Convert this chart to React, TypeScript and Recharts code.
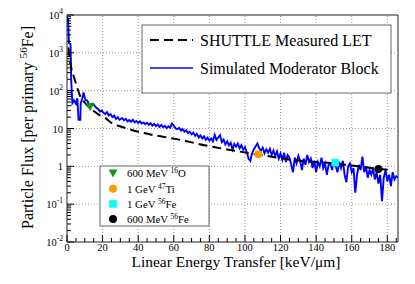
import { ComposedChart, Line, Scatter, XAxis, YAxis, ReferenceLine, ReferenceArea } from 'recharts';

// axis ticks
const xMajorTicks = [0, 20, 40, 60, 80, 100, 120, 140, 160, 180];
const yMajorTicks = [0.01, 0.1, 1, 10, 100, 1000, 10000];

// SHUTTLE measured LET spectrum (dashed)
const shuttleLet = [0.8, 1.5, 2.5, 3.9, 5.5, 7.7, 10, 12.4, 15, 18, 21.5, 25, 31, 40, 50, 60, 70, 80, 90, 103, 115, 128, 140, 150, 160, 170, 176, 181];
const shuttleFlux = [1400, 700, 380, 230, 130, 67, 48, 37, 29, 23, 19, 14, 11, 8.2, 6.5, 5.4, 4.3, 3.4, 2.8, 2.2, 1.8, 1.45, 1.3, 1.2, 1.05, 0.92, 0.85, 0.8];

// simulated moderator block, low LET part (irregular bins)
const simLetHead = [0, 0.6, 1.1, 2, 2.4, 3, 3.9, 5, 5.8, 6.5, 7.5, 7.7, 8.5, 9.3, 10.3, 11.4, 12.5, 13.5, 14.5, 15.5, 16.5, 17.5, 18.5, 19.5, 20.5, 21.5, 22.5, 23.5, 24.5, 25.5, 26.5, 27.5, 28.5, 29.5];
const simFluxHead = [8300, 8000, 1800, 1700, 170, 47, 56, 45, 63, 17, 17, 47, 60, 90, 56, 55, 42, 38, 45, 40, 35, 33, 28, 30, 26, 24, 27, 22, 24, 20, 22, 18, 20, 17];

// rest of the histogram, 1 keV/um bins starting at 30
const simTailStart = 30;
const simBinWidth = 1;
const simFluxTail = [
    17.5, 19, 16.5, 18, 15.5, 16.8, 15, 17, 14.5, 15.8,
    14, 15.5, 13.6, 14.5, 13, 14.2, 12.5, 13.8, 12, 13.2,
    11.6, 12.8, 11, 12.4, 10.8, 11.8, 10.2, 11.5, 10.5, 13.5,
    12, 10, 9.6, 10.4, 8.8, 9.6, 8.2, 9, 7.6, 8.3,
    7, 7.8, 6.4, 7.2, 5.8, 6.6, 5.4, 6.2, 5, 5.7,
    4.8, 5.5, 4.6, 6.8, 5, 5.8, 6.7, 4.4, 5.1, 3.8,
    4.6, 3.6, 4.2, 2.8, 3.9, 3.3, 4.0, 3.0, 3.6, 2.7,
    3.2, 2.4, 1.6, 1.4, 2.2, 2.8, 3.4, 4.0, 3.0, 2.6,
    3.1, 2.2, 2.8, 2.3, 2.9, 2.0, 2.6, 1.9, 2.5, 1.6,
    2.2, 1.5, 2.3, 1.3, 2.0, 1.7, 1.1, 0.7, 1.7, 1.2,
    1.9, 1.4, 0.8, 1.6, 1.1, 2.0, 1.3, 1.6, 0.9, 1.4,
    0.7, 1.3, 1.0, 1.7, 0.9, 1.2, 0.6, 1.1, 1.2, 0.8,
    1.5, 1.0, 0.7, 1.3, 0.9, 1.4, 0.6, 0.38, 1.0, 1.2,
    0.7, 0.9, 0.2, 0.6, 1.1, 0.8, 1.8, 0.7, 1.0, 0.5,
    0.8, 0.6, 0.9, 0.45, 0.7, 0.35, 0.6, 0.12, 0.5, 0.8,
    0.4, 0.6, 0.3, 0.7, 0.45, 0.55, 0.5,
];

// beam points
const beamEnergy = ['600 MeV', '1 GeV', '1 GeV', '600 MeV'];
const beamMass = ['16', '47', '56', '56'];
const beamIon = ['O', 'Ti', 'Fe', 'Fe'];
const beamLet = [13, 107.5, 150.7, 175];
const beamFlux = [37, 2.1, 1.26, 0.85];

const beamColors = ['#119911', '#ff9900', '#00ffff', '#000000'];
const beamShapes = ['triangle', 'circle', 'square', 'circle'];

const FONT = '"Liberation Serif", "Times New Roman", serif';

const shuttleData = shuttleLet.map((x, i) => ({ x, y: shuttleFlux[i] }));
const simData = [
    ...simLetHead.map((x, i) => ({ x, y: simFluxHead[i] })),
    ...simFluxTail.map((y, i) => ({ x: simTailStart + i * simBinWidth, y })),
];

const xTicks: number[] = [];
for (let v = 0; v <= 185; v += 5) xTicks.push(v);
const yTicks = [
    ...yMajorTicks.slice(0, -1).flatMap(d => [1, 2, 3, 4, 5, 6, 7, 8, 9].map(m => d * m)),
    10000,
];

function Marker({ cx, cy, shape, color }: { cx: number; cy: number; shape: string; color: string }) {
    if (shape === 'triangle') {
        return <polygon points={`${cx - 4.5},${cy - 4} ${cx + 4.5},${cy - 4} ${cx},${cy + 4}`} fill={color} />;
    }
    if (shape === 'square') {
        return <rect x={cx - 3.8} y={cy - 3.8} width={7.6} height={7.6} fill={color} />;
    }
    return <circle cx={cx} cy={cy} r={4} fill={color} />;
}

function YTick(props: any) {
    const { x, y, payload } = props;
    const v = payload.value;
    const e = Math.log10(v);
    const exp = Math.round(e);
    const major = Math.abs(e - exp) < 1e-6;
    return (
        <g>
            <line x1={x} x2={x + (major ? 7 : 4)} y1={y} y2={y} stroke="#000" strokeWidth={1} />
            {major && (
                <text x={x - 4} y={y + 4} textAnchor="end" fontSize={10.5} fontFamily={FONT} fill="#000">
                    {exp === 0 ? '1' : '10'}
                    {exp !== 0 && exp !== 1 && (
                        <tspan dy={-5} fontSize={7.5}>{exp}</tspan>
                    )}
                </text>
            )}
        </g>
    );
}

function XTick(props: any) {
    const { x, y, payload } = props;
    const v = payload.value;
    const major = v % 20 === 0;
    return (
        <g>
            <line x1={x} x2={x} y1={y} y2={y - (major ? 7 : 4)} stroke="#000" strokeWidth={1} />
            {major && (
                <text x={x} y={y + 8.5} textAnchor="middle" fontSize={10.5} fontFamily={FONT} fill="#000">
                    {v}
                </text>
            )}
        </g>
    );
}

export default function App() {
    return (
        <div style={{ position: 'absolute', left: 0, top: 0, width: 415, height: 284, background: '#fff' }}>
            <ComposedChart width={415} height={284} margin={{ top: 15, right: 17, bottom: 0, left: 0 }}>
                <XAxis
                    type="number"
                    dataKey="x"
                    domain={[0, 186]}
                    allowDataOverflow
                    ticks={xTicks}
                    interval={0}
                    tick={<XTick />}
                    tickLine={false}
                    axisLine={false}
                    tickSize={0}
                    tickMargin={0}
                    height={42}
                />
                <YAxis
                    type="number"
                    dataKey="y"
                    scale="log"
                    domain={[0.01, 10000]}
                    allowDataOverflow
                    ticks={yTicks}
                    interval={0}
                    tick={<YTick />}
                    tickLine={false}
                    axisLine={false}
                    tickSize={0}
                    tickMargin={0}
                    width={67}
                />
                {xMajorTicks.slice(1).map(v => (
                    <ReferenceLine key={'gx' + v} x={v} stroke="#999" strokeDasharray="1 2" />
                ))}
                {yMajorTicks.slice(1, -1).map(v => (
                    <ReferenceLine key={'gy' + v} y={v} stroke="#999" strokeDasharray="1 2" />
                ))}
                <Line
                    data={simData}
                    dataKey="y"
                    type="linear"
                    stroke="#0000ff"
                    strokeWidth={1.9}
                    dot={false}
                    isAnimationActive={false}
                />
                <Line
                    data={shuttleData}
                    dataKey="y"
                    type="monotone"
                    stroke="#000"
                    strokeWidth={2}
                    strokeDasharray="9 5"
                    dot={false}
                    isAnimationActive={false}
                />
                {beamLet.map((x, i) => (
                    <Scatter
                        key={'b' + i}
                        data={[{ x, y: beamFlux[i] }]}
                        dataKey="y"
                        isAnimationActive={false}
                        shape={(p: any) => <Marker cx={p.cx} cy={p.cy} shape={beamShapes[i]} color={beamColors[i]} />}
                    />
                ))}
                <ReferenceArea x1={0} x2={186} y1={0.01} y2={10000} fill="none" stroke="#222" strokeWidth={1} ifOverflow="visible" />
            </ComposedChart>

            <svg width={415} height={284} style={{ position: 'absolute', left: 0, top: 0, pointerEvents: 'none' }}>
                {/* axis titles */}
                <text transform="translate(33,127.5) rotate(-90)" textAnchor="middle" fontSize={16} fontFamily={FONT} fill="#000">
                    Particle Flux [per primary <tspan dy={-6} fontSize={11}>56</tspan><tspan dy={6}>Fe]</tspan>
                </text>
                <text x={236} y={266.5} textAnchor="middle" fontSize={15.5} fontFamily={FONT} fill="#000">
                    Linear Energy Transfer [keV/μm]
                </text>

                {/* line legend */}
                <rect x={142} y={25} width={249} height={68} fill="#fff" stroke="#666" strokeWidth={1} />
                <line x1={150} x2={193} y1={40} y2={40} stroke="#000" strokeWidth={2} strokeDasharray="9 5" />
                <text x={200} y={46} fontSize={16} fontFamily={FONT} fill="#000">SHUTTLE Measured LET</text>
                <line x1={150} x2={193} y1={68} y2={68} stroke="#0000ff" strokeWidth={1.7} />
                <text x={200} y={73.5} fontSize={16} fontFamily={FONT} fill="#000">Simulated Moderator Block</text>

                {/* beam legend */}
                <rect x={100} y={166} width={109} height={60} fill="#fff" stroke="#666" strokeWidth={1} />
                {beamEnergy.map((en, i) => {
                    const cy = 173.5 + i * 15.2;
                    return (
                        <g key={'l' + i}>
                            <Marker cx={113} cy={cy} shape={beamShapes[i]} color={beamColors[i]} />
                            <text x={127} y={cy + 3.8} fontSize={10.8} fontFamily={FONT} fill="#000">
                                {en} <tspan dy={-4} fontSize={7.5}>{beamMass[i]}</tspan>
                                <tspan dy={4}>{beamIon[i]}</tspan>
                            </text>
                        </g>
                    );
                })}
            </svg>
        </div>
    );
}
